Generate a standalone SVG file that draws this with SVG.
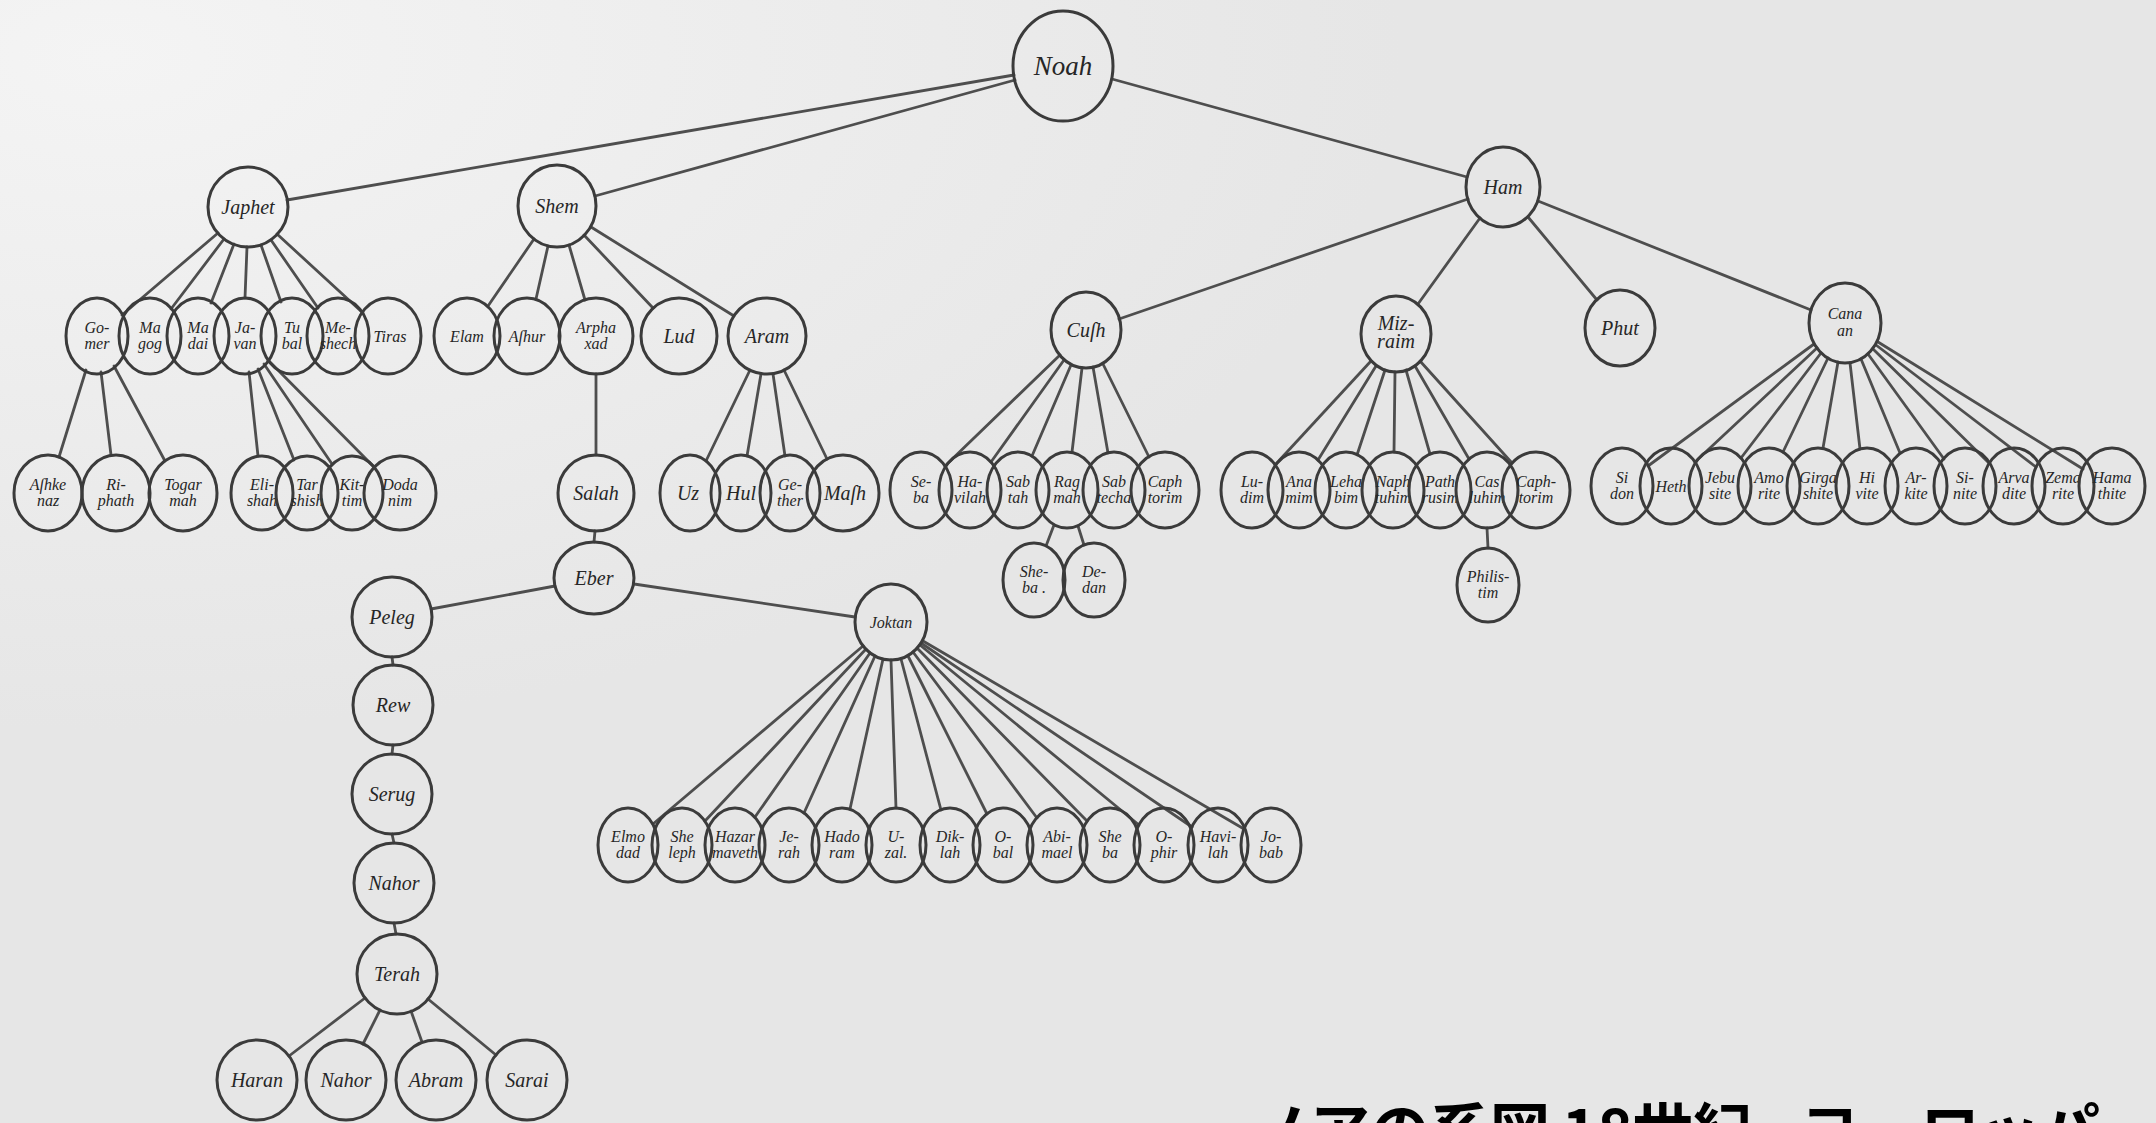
<svg xmlns="http://www.w3.org/2000/svg" width="2156" height="1123" viewBox="0 0 2156 1123">
<defs>
<style>
.n ellipse{fill:none;stroke:#3b3b3b;stroke-width:3}
.n text{font-family:"Liberation Serif",serif;font-style:italic;font-size:16px;fill:#262626;text-anchor:middle}
.n text.b{font-size:20px}
.n text.h{font-size:27px}
#connectors line{stroke:#4e4e4e;stroke-width:2.8;stroke-linecap:round}
.cap{font-family:"Noto Sans CJK JP","Noto Sans CJK SC",sans-serif;font-weight:bold;font-size:60px;fill:#000}
</style>
<radialGradient id="paper" cx="0.05" cy="0.05" r="0.6">
<stop offset="0" stop-color="#f4f4f4"/>
<stop offset="1" stop-color="#e6e6e6"/>
</radialGradient>
</defs>
<rect width="2156" height="1123" fill="url(#paper)"/>

<g id="connectors">
<line x1="1014" y1="75" x2="287" y2="200"/>
<line x1="1015" y1="80" x2="595" y2="196"/>
<line x1="1112" y1="79" x2="1467" y2="177"/>
<line x1="218" y1="233" x2="122" y2="315"/>
<line x1="224" y1="239" x2="171" y2="309"/>
<line x1="234" y1="244" x2="211" y2="303"/>
<line x1="247" y1="247" x2="245" y2="298"/>
<line x1="261" y1="245" x2="281" y2="302"/>
<line x1="271" y1="240" x2="318" y2="308"/>
<line x1="277" y1="234" x2="363" y2="313"/>
<line x1="86" y1="370" x2="59" y2="457"/>
<line x1="101" y1="372" x2="111" y2="455"/>
<line x1="114" y1="366" x2="165" y2="461"/>
<line x1="249" y1="372" x2="258" y2="456"/>
<line x1="258" y1="369" x2="294" y2="460"/>
<line x1="264" y1="364" x2="332" y2="464"/>
<line x1="268" y1="360" x2="374" y2="467"/>
<line x1="534" y1="239" x2="488" y2="306"/>
<line x1="548" y1="246" x2="536" y2="299"/>
<line x1="569" y1="245" x2="585" y2="300"/>
<line x1="584" y1="235" x2="653" y2="308"/>
<line x1="591" y1="227" x2="734" y2="316"/>
<line x1="596" y1="374" x2="596" y2="455"/>
<line x1="595" y1="531" x2="594" y2="542"/>
<line x1="750" y1="370" x2="706" y2="461"/>
<line x1="761" y1="374" x2="747" y2="456"/>
<line x1="773" y1="374" x2="785" y2="456"/>
<line x1="784" y1="370" x2="827" y2="459"/>
<line x1="555" y1="586" x2="431" y2="609"/>
<line x1="634" y1="584" x2="855" y2="617"/>
<line x1="392" y1="657" x2="393" y2="665"/>
<line x1="393" y1="745" x2="392" y2="754"/>
<line x1="392" y1="834" x2="394" y2="843"/>
<line x1="394" y1="923" x2="396" y2="934"/>
<line x1="365" y1="998" x2="289" y2="1056"/>
<line x1="380" y1="1010" x2="363" y2="1044"/>
<line x1="411" y1="1011" x2="422" y2="1042"/>
<line x1="428" y1="999" x2="496" y2="1055"/>
<line x1="863" y1="646" x2="653" y2="824"/>
<line x1="866" y1="649" x2="705" y2="821"/>
<line x1="870" y1="653" x2="755" y2="817"/>
<line x1="875" y1="656" x2="804" y2="813"/>
<line x1="883" y1="659" x2="850" y2="809"/>
<line x1="891" y1="660" x2="896" y2="808"/>
<line x1="901" y1="659" x2="941" y2="810"/>
<line x1="908" y1="656" x2="987" y2="814"/>
<line x1="913" y1="652" x2="1037" y2="818"/>
<line x1="917" y1="648" x2="1087" y2="821"/>
<line x1="920" y1="645" x2="1139" y2="825"/>
<line x1="921" y1="643" x2="1192" y2="827"/>
<line x1="923" y1="641" x2="1244" y2="829"/>
<line x1="1468" y1="199" x2="1119" y2="319"/>
<line x1="1480" y1="218" x2="1418" y2="304"/>
<line x1="1528" y1="217" x2="1597" y2="300"/>
<line x1="1538" y1="201" x2="1811" y2="310"/>
<line x1="1060" y1="355" x2="945" y2="466"/>
<line x1="1064" y1="360" x2="991" y2="462"/>
<line x1="1071" y1="365" x2="1032" y2="456"/>
<line x1="1082" y1="368" x2="1072" y2="452"/>
<line x1="1093" y1="367" x2="1108" y2="453"/>
<line x1="1103" y1="364" x2="1149" y2="457"/>
<line x1="1054" y1="525" x2="1046" y2="546"/>
<line x1="1078" y1="526" x2="1084" y2="545"/>
<line x1="1371" y1="361" x2="1275" y2="465"/>
<line x1="1376" y1="366" x2="1318" y2="460"/>
<line x1="1385" y1="370" x2="1357" y2="455"/>
<line x1="1395" y1="372" x2="1394" y2="452"/>
<line x1="1406" y1="370" x2="1430" y2="454"/>
<line x1="1415" y1="366" x2="1469" y2="459"/>
<line x1="1420" y1="361" x2="1512" y2="463"/>
<line x1="1487" y1="528" x2="1488" y2="548"/>
<line x1="1814" y1="344" x2="1648" y2="466"/>
<line x1="1817" y1="348" x2="1695" y2="462"/>
<line x1="1821" y1="353" x2="1741" y2="458"/>
<line x1="1828" y1="358" x2="1783" y2="452"/>
<line x1="1838" y1="362" x2="1823" y2="448"/>
<line x1="1850" y1="363" x2="1860" y2="449"/>
<line x1="1861" y1="359" x2="1900" y2="453"/>
<line x1="1868" y1="354" x2="1944" y2="459"/>
<line x1="1873" y1="349" x2="1989" y2="463"/>
<line x1="1876" y1="345" x2="2036" y2="467"/>
<line x1="1878" y1="342" x2="2083" y2="469"/>
</g>

<g id="n-noah" class="n"><ellipse cx="1063" cy="66" rx="50" ry="55"/><text class="h" x="1063" y="75">Noah</text></g>
<g id="n-japhet" class="n"><ellipse cx="248" cy="207" rx="40" ry="40"/><text class="b" x="248" y="214">Japhet</text></g>
<g id="n-shem" class="n"><ellipse cx="557" cy="206" rx="39" ry="41"/><text class="b" x="557" y="213">Shem</text></g>
<g id="n-ham" class="n"><ellipse cx="1503" cy="187" rx="37" ry="40"/><text class="b" x="1503" y="194">Ham</text></g>

<g id="n-gomer" class="n"><ellipse cx="97" cy="336" rx="31" ry="38"/><text x="97" y="333"><tspan x="97">Go-</tspan><tspan x="97" dy="16">mer</tspan></text></g>
<g id="n-magog" class="n"><ellipse cx="150" cy="336" rx="31" ry="38"/><text x="150" y="333"><tspan x="150">Ma</tspan><tspan x="150" dy="16">gog</tspan></text></g>
<g id="n-madai" class="n"><ellipse cx="198" cy="336" rx="31" ry="38"/><text x="198" y="333"><tspan x="198">Ma</tspan><tspan x="198" dy="16">dai</tspan></text></g>
<g id="n-javan" class="n"><ellipse cx="245" cy="336" rx="31" ry="38"/><text x="245" y="333"><tspan x="245">Ja-</tspan><tspan x="245" dy="16">van</tspan></text></g>
<g id="n-tubal" class="n"><ellipse cx="292" cy="336" rx="31" ry="38"/><text x="292" y="333"><tspan x="292">Tu</tspan><tspan x="292" dy="16">bal</tspan></text></g>
<g id="n-meshech" class="n"><ellipse cx="338" cy="336" rx="31" ry="38"/><text x="338" y="333"><tspan x="338">Me-</tspan><tspan x="338" dy="16">shech</tspan></text></g>
<g id="n-tiras" class="n"><ellipse cx="388" cy="336" rx="33" ry="38"/><text x="390" y="342">Tiras</text></g>

<g id="n-ashkenaz" class="n"><ellipse cx="48" cy="493" rx="34" ry="38"/><text x="48" y="490"><tspan x="48">Aſhke</tspan><tspan x="48" dy="16">naz</tspan></text></g>
<g id="n-riphath" class="n"><ellipse cx="116" cy="493" rx="34" ry="38"/><text x="116" y="490"><tspan x="116">Ri-</tspan><tspan x="116" dy="16">phath</tspan></text></g>
<g id="n-togarmah" class="n"><ellipse cx="183" cy="493" rx="34" ry="38"/><text x="183" y="490"><tspan x="183">Togar</tspan><tspan x="183" dy="16">mah</tspan></text></g>
<g id="n-elishah" class="n"><ellipse cx="262" cy="493" rx="31" ry="37"/><text x="262" y="490"><tspan x="262">Eli-</tspan><tspan x="262" dy="16">shah</tspan></text></g>
<g id="n-tarshish" class="n"><ellipse cx="307" cy="493" rx="31" ry="37"/><text x="307" y="490"><tspan x="307">Tar</tspan><tspan x="307" dy="16">shish</tspan></text></g>
<g id="n-kittim" class="n"><ellipse cx="352" cy="493" rx="31" ry="37"/><text x="352" y="490"><tspan x="352">Kit-</tspan><tspan x="352" dy="16">tim</tspan></text></g>
<g id="n-dodanim" class="n"><ellipse cx="400" cy="493" rx="36" ry="37"/><text x="400" y="490"><tspan x="400">Doda</tspan><tspan x="400" dy="16">nim</tspan></text></g>

<g id="n-elam" class="n"><ellipse cx="467" cy="336" rx="33" ry="38"/><text x="467" y="342">Elam</text></g>
<g id="n-ashur" class="n"><ellipse cx="527" cy="336" rx="33" ry="38"/><text x="527" y="342">Aſhur</text></g>
<g id="n-arphaxad" class="n"><ellipse cx="596" cy="336" rx="37" ry="38"/><text x="596" y="333"><tspan x="596">Arpha</tspan><tspan x="596" dy="16">xad</tspan></text></g>
<g id="n-lud" class="n"><ellipse cx="679" cy="336" rx="38" ry="38"/><text class="b" x="679" y="343">Lud</text></g>
<g id="n-aram" class="n"><ellipse cx="767" cy="336" rx="39" ry="38"/><text class="b" x="767" y="343">Aram</text></g>
<g id="n-salah" class="n"><ellipse cx="596" cy="493" rx="38" ry="38"/><text class="b" x="596" y="500">Salah</text></g>
<g id="n-uz" class="n"><ellipse cx="690" cy="493" rx="30" ry="38"/><text class="b" x="688" y="500">Uz</text></g>
<g id="n-hul" class="n"><ellipse cx="741" cy="493" rx="30" ry="38"/><text class="b" x="741" y="500">Hul</text></g>
<g id="n-gether" class="n"><ellipse cx="790" cy="493" rx="30" ry="38"/><text x="790" y="490"><tspan x="790">Ge-</tspan><tspan x="790" dy="16">ther</tspan></text></g>
<g id="n-mash" class="n"><ellipse cx="843" cy="493" rx="36" ry="38"/><text class="b" x="845" y="500">Maſh</text></g>
<g id="n-eber" class="n"><ellipse cx="594" cy="578" rx="40" ry="36"/><text class="b" x="594" y="585">Eber</text></g>

<g id="n-peleg" class="n"><ellipse cx="392" cy="617" rx="40" ry="40"/><text class="b" x="392" y="624">Peleg</text></g>
<g id="n-rew" class="n"><ellipse cx="393" cy="705" rx="40" ry="40"/><text class="b" x="393" y="712">Rew</text></g>
<g id="n-serug" class="n"><ellipse cx="392" cy="794" rx="40" ry="40"/><text class="b" x="392" y="801">Serug</text></g>
<g id="n-nahor1" class="n"><ellipse cx="394" cy="883" rx="40" ry="40"/><text class="b" x="394" y="890">Nahor</text></g>
<g id="n-terah" class="n"><ellipse cx="397" cy="974" rx="40" ry="40"/><text class="b" x="397" y="981">Terah</text></g>
<g id="n-haran" class="n"><ellipse cx="257" cy="1080" rx="40" ry="40"/><text class="b" x="257" y="1087">Haran</text></g>
<g id="n-nahor2" class="n"><ellipse cx="346" cy="1080" rx="40" ry="40"/><text class="b" x="346" y="1087">Nahor</text></g>
<g id="n-abram" class="n"><ellipse cx="436" cy="1080" rx="40" ry="40"/><text class="b" x="436" y="1087">Abram</text></g>
<g id="n-sarai" class="n"><ellipse cx="527" cy="1080" rx="40" ry="40"/><text class="b" x="527" y="1087">Sarai</text></g>

<g id="n-joktan" class="n"><ellipse cx="891" cy="622" rx="36" ry="38"/><text x="891" y="628">Joktan</text></g>
<g id="n-elmodad" class="n"><ellipse cx="628" cy="845" rx="30" ry="37"/><text x="628" y="842"><tspan x="628">Elmo</tspan><tspan x="628" dy="16">dad</tspan></text></g>
<g id="n-sheleph" class="n"><ellipse cx="682" cy="845" rx="30" ry="37"/><text x="682" y="842"><tspan x="682">She</tspan><tspan x="682" dy="16">leph</tspan></text></g>
<g id="n-hazarmaveth" class="n"><ellipse cx="735" cy="845" rx="30" ry="37"/><text x="735" y="842"><tspan x="735">Hazar</tspan><tspan x="735" dy="16">maveth</tspan></text></g>
<g id="n-jerah" class="n"><ellipse cx="789" cy="845" rx="30" ry="37"/><text x="789" y="842"><tspan x="789">Je-</tspan><tspan x="789" dy="16">rah</tspan></text></g>
<g id="n-hadoram" class="n"><ellipse cx="842" cy="845" rx="30" ry="37"/><text x="842" y="842"><tspan x="842">Hado</tspan><tspan x="842" dy="16">ram</tspan></text></g>
<g id="n-uzal" class="n"><ellipse cx="896" cy="845" rx="30" ry="37"/><text x="896" y="842"><tspan x="896">U-</tspan><tspan x="896" dy="16">zal.</tspan></text></g>
<g id="n-diklah" class="n"><ellipse cx="950" cy="845" rx="30" ry="37"/><text x="950" y="842"><tspan x="950">Dik-</tspan><tspan x="950" dy="16">lah</tspan></text></g>
<g id="n-obal" class="n"><ellipse cx="1003" cy="845" rx="30" ry="37"/><text x="1003" y="842"><tspan x="1003">O-</tspan><tspan x="1003" dy="16">bal</tspan></text></g>
<g id="n-abimael" class="n"><ellipse cx="1057" cy="845" rx="30" ry="37"/><text x="1057" y="842"><tspan x="1057">Abi-</tspan><tspan x="1057" dy="16">mael</tspan></text></g>
<g id="n-sheba2" class="n"><ellipse cx="1110" cy="845" rx="30" ry="37"/><text x="1110" y="842"><tspan x="1110">She</tspan><tspan x="1110" dy="16">ba</tspan></text></g>
<g id="n-ophir" class="n"><ellipse cx="1164" cy="845" rx="30" ry="37"/><text x="1164" y="842"><tspan x="1164">O-</tspan><tspan x="1164" dy="16">phir</tspan></text></g>
<g id="n-havilah2" class="n"><ellipse cx="1218" cy="845" rx="30" ry="37"/><text x="1218" y="842"><tspan x="1218">Havi-</tspan><tspan x="1218" dy="16">lah</tspan></text></g>
<g id="n-jobab" class="n"><ellipse cx="1271" cy="845" rx="30" ry="37"/><text x="1271" y="842"><tspan x="1271">Jo-</tspan><tspan x="1271" dy="16">bab</tspan></text></g>

<g id="n-cush" class="n"><ellipse cx="1086" cy="330" rx="35" ry="38"/><text class="b" x="1086" y="337">Cuſh</text></g>
<g id="n-mizraim" class="n"><ellipse cx="1396" cy="334" rx="35" ry="38"/><text class="b" x="1396" y="330"><tspan x="1396">Miz-</tspan><tspan x="1396" dy="18">raim</tspan></text></g>
<g id="n-phut" class="n"><ellipse cx="1620" cy="328" rx="35" ry="38"/><text class="b" x="1620" y="335">Phut</text></g>
<g id="n-canaan" class="n"><ellipse cx="1845" cy="323" rx="36" ry="40"/><text x="1845" y="319"><tspan x="1845">Cana</tspan><tspan x="1845" dy="17">an</tspan></text></g>

<g id="n-seba" class="n"><ellipse cx="921" cy="490" rx="31" ry="38"/><text x="921" y="487"><tspan x="921">Se-</tspan><tspan x="921" dy="16">ba</tspan></text></g>
<g id="n-havilah" class="n"><ellipse cx="970" cy="490" rx="31" ry="38"/><text x="970" y="487"><tspan x="970">Ha-</tspan><tspan x="970" dy="16">vilah</tspan></text></g>
<g id="n-sabtah" class="n"><ellipse cx="1018" cy="490" rx="31" ry="38"/><text x="1018" y="487"><tspan x="1018">Sab</tspan><tspan x="1018" dy="16">tah</tspan></text></g>
<g id="n-raamah" class="n"><ellipse cx="1067" cy="490" rx="31" ry="38"/><text x="1067" y="487"><tspan x="1067">Rag</tspan><tspan x="1067" dy="16">mah</tspan></text></g>
<g id="n-sabtecha" class="n"><ellipse cx="1114" cy="490" rx="31" ry="38"/><text x="1114" y="487"><tspan x="1114">Sab</tspan><tspan x="1114" dy="16">techa</tspan></text></g>
<g id="n-caphtorim1" class="n"><ellipse cx="1165" cy="490" rx="34" ry="38"/><text x="1165" y="487"><tspan x="1165">Caph</tspan><tspan x="1165" dy="16">torim</tspan></text></g>
<g id="n-sheba" class="n"><ellipse cx="1034" cy="580" rx="31" ry="37"/><text x="1034" y="577"><tspan x="1034">She-</tspan><tspan x="1034" dy="16">ba .</tspan></text></g>
<g id="n-dedan" class="n"><ellipse cx="1094" cy="580" rx="31" ry="37"/><text x="1094" y="577"><tspan x="1094">De-</tspan><tspan x="1094" dy="16">dan</tspan></text></g>

<g id="n-ludim" class="n"><ellipse cx="1252" cy="490" rx="31" ry="38"/><text x="1252" y="487"><tspan x="1252">Lu-</tspan><tspan x="1252" dy="16">dim</tspan></text></g>
<g id="n-anamim" class="n"><ellipse cx="1299" cy="490" rx="31" ry="38"/><text x="1299" y="487"><tspan x="1299">Ana</tspan><tspan x="1299" dy="16">mim</tspan></text></g>
<g id="n-lehabim" class="n"><ellipse cx="1346" cy="490" rx="31" ry="38"/><text x="1346" y="487"><tspan x="1346">Leha</tspan><tspan x="1346" dy="16">bim</tspan></text></g>
<g id="n-naphtuhim" class="n"><ellipse cx="1393" cy="490" rx="31" ry="38"/><text x="1393" y="487"><tspan x="1393">Naph</tspan><tspan x="1393" dy="16">tuhim</tspan></text></g>
<g id="n-pathrusim" class="n"><ellipse cx="1440" cy="490" rx="31" ry="38"/><text x="1440" y="487"><tspan x="1440">Path</tspan><tspan x="1440" dy="16">rusim</tspan></text></g>
<g id="n-casluhim" class="n"><ellipse cx="1487" cy="490" rx="31" ry="38"/><text x="1487" y="487"><tspan x="1487">Cas</tspan><tspan x="1487" dy="16">luhim</tspan></text></g>
<g id="n-caphtorim2" class="n"><ellipse cx="1536" cy="490" rx="34" ry="38"/><text x="1536" y="487"><tspan x="1536">Caph-</tspan><tspan x="1536" dy="16">torim</tspan></text></g>
<g id="n-philistim" class="n"><ellipse cx="1488" cy="585" rx="31" ry="37"/><text x="1488" y="582"><tspan x="1488">Philis-</tspan><tspan x="1488" dy="16">tim</tspan></text></g>

<g id="n-sidon" class="n"><ellipse cx="1622" cy="486" rx="31" ry="38"/><text x="1622" y="483"><tspan x="1622">Si</tspan><tspan x="1622" dy="16">don</tspan></text></g>
<g id="n-heth" class="n"><ellipse cx="1671" cy="486" rx="31" ry="38"/><text x="1671" y="492">Heth</text></g>
<g id="n-jebusite" class="n"><ellipse cx="1720" cy="486" rx="31" ry="38"/><text x="1720" y="483"><tspan x="1720">Jebu</tspan><tspan x="1720" dy="16">site</tspan></text></g>
<g id="n-amorite" class="n"><ellipse cx="1769" cy="486" rx="31" ry="38"/><text x="1769" y="483"><tspan x="1769">Amo</tspan><tspan x="1769" dy="16">rite</tspan></text></g>
<g id="n-girgashite" class="n"><ellipse cx="1818" cy="486" rx="31" ry="38"/><text x="1818" y="483"><tspan x="1818">Girga</tspan><tspan x="1818" dy="16">shite</tspan></text></g>
<g id="n-hivite" class="n"><ellipse cx="1867" cy="486" rx="31" ry="38"/><text x="1867" y="483"><tspan x="1867">Hi</tspan><tspan x="1867" dy="16">vite</tspan></text></g>
<g id="n-arkite" class="n"><ellipse cx="1916" cy="486" rx="31" ry="38"/><text x="1916" y="483"><tspan x="1916">Ar-</tspan><tspan x="1916" dy="16">kite</tspan></text></g>
<g id="n-sinite" class="n"><ellipse cx="1965" cy="486" rx="31" ry="38"/><text x="1965" y="483"><tspan x="1965">Si-</tspan><tspan x="1965" dy="16">nite</tspan></text></g>
<g id="n-arvadite" class="n"><ellipse cx="2014" cy="486" rx="31" ry="38"/><text x="2014" y="483"><tspan x="2014">Arva</tspan><tspan x="2014" dy="16">dite</tspan></text></g>
<g id="n-zemarite" class="n"><ellipse cx="2063" cy="486" rx="31" ry="38"/><text x="2063" y="483"><tspan x="2063">Zema</tspan><tspan x="2063" dy="16">rite</tspan></text></g>
<g id="n-hamathite" class="n"><ellipse cx="2112" cy="486" rx="33" ry="38"/><text x="2112" y="483"><tspan x="2112">Hama</tspan><tspan x="2112" dy="16">thite</tspan></text></g>

<text class="cap" x="1250" y="1153">ノアの系図</text>
<text class="cap" x="1562" y="1153">18世紀</text>
<text class="cap" x="1800" y="1153">ヨーロッパ</text>
</svg>
